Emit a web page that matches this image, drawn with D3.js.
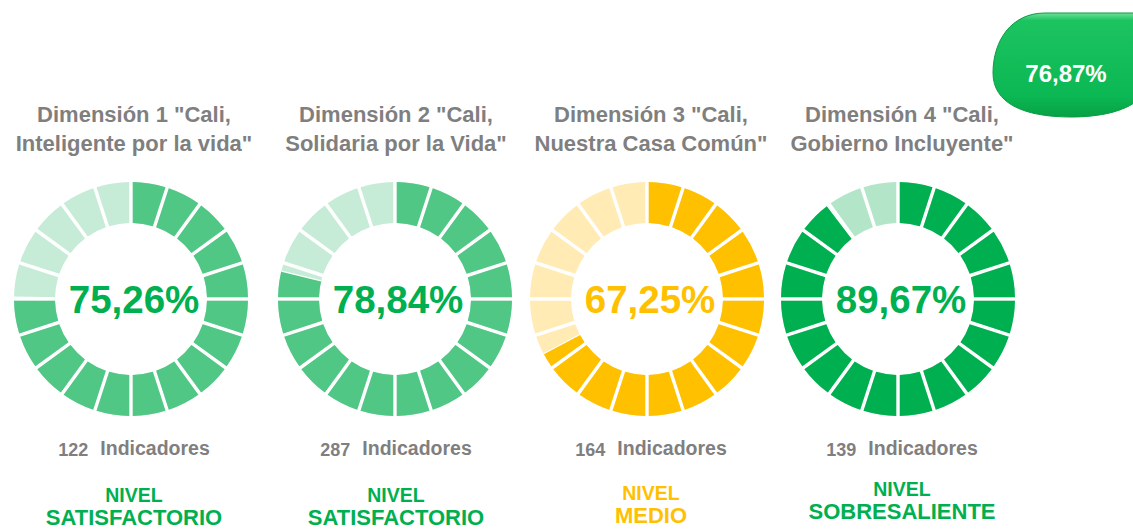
<!DOCTYPE html>
<html lang="es">
<head>
<meta charset="utf-8">
<script src="https://cdn.jsdelivr.net/npm/d3@7"></script>
<style>
  html, body { margin: 0; padding: 0; background: #fff; }
  svg { display: block; font-family: "Liberation Sans", Arial, sans-serif; font-weight: bold; }
</style>
</head>
<body>
<div id="chart"></div>
<script>
// datos
const dimensiones = ['Dimensión 1', 'Dimensión 2', 'Dimensión 3', 'Dimensión 4']
const titulosLinea1 = ['Dimensión 1 "Cali,', 'Dimensión 2 "Cali,', 'Dimensión 3 "Cali,', 'Dimensión 4 "Cali,']
const titulosLinea2 = ['Inteligente por la vida"', 'Solidaria por la Vida"', 'Nuestra Casa Común"', 'Gobierno Incluyente"']
const porcentajes = [75.26, 78.84, 67.25, 89.67]
const indicadores = [122, 287, 164, 139]
const niveles = ['SATISFACTORIO', 'SATISFACTORIO', 'MEDIO', 'SOBRESALIENTE']
const totalGeneral = 76.87
const numSegmentos = 20

// layout
const width = 1133, height = 531
const centrosDona = [131, 395, 647, 898]
const centrosTexto = [134, 396, 651, 902]
const yNivel = [502, 502, 500, 496]
const cy = 299, rExt = 117, rInt = 76

const es = d3.formatLocale({ decimal: ',', thousands: '.', grouping: [3], currency: ['', ''] })
const fmtPct = v => es.format('.2f')(v) + '%'

const xDona = d3.scaleOrdinal().domain(dimensiones).range(centrosDona)
const xTexto = d3.scaleOrdinal().domain(dimensiones).range(centrosTexto)
const angulo = d3.scaleLinear().domain([0, 100]).range([0, 2 * Math.PI])
const nivelesUnicos = ['SATISFACTORIO', 'MEDIO', 'SOBRESALIENTE']
const colorOscuro = d3.scaleOrdinal().domain(nivelesUnicos).range(['#50c785', '#ffc000', '#00b050'])
const colorClaro = d3.scaleOrdinal().domain(nivelesUnicos).range(['#c6ecd8', '#ffebb3', '#b3e6c9'])
const colorTexto = d3.scaleOrdinal().domain(nivelesUnicos).range(['#00b050', '#ffc000', '#00b050'])

const datos = dimensiones.map((d, i) => ({
    id: d, i,
    l1: titulosLinea1[i], l2: titulosLinea2[i],
    valor: porcentajes[i], ind: indicadores[i], nivel: niveles[i]
}))

const segmentos = d3.range(numSegmentos).map(k => ({
    startAngle: angulo(k * 100 / numSegmentos),
    endAngle: angulo((k + 1) * 100 / numSegmentos)
}))

const arco = d3.arc().innerRadius(rInt).outerRadius(rExt).padAngle(0.035).padRadius(100)

const svg = d3.select('#chart').append('svg')
    .attr('width', width)
    .attr('height', height)

const defs = svg.append('defs')

// recorte para la parte rellena de cada dona
defs.selectAll('clipPath')
    .data(datos)
    .enter().append('clipPath')
    .attr('id', d => `clip-${d.i}`)
    .append('path')
    .attr('d', d => d3.arc().innerRadius(0).outerRadius(rExt + 10)
        .startAngle(0).endAngle(angulo(d.valor))())

const grupos = svg.selectAll('g.dim')
    .data(datos)
    .enter().append('g')
    .attr('class', 'dim')

// donas
const dona = grupos.append('g')
    .attr('transform', d => `translate(${xDona(d.id)},${cy})`)

dona.each(function (d) {
    const g = d3.select(this)
    g.append('g').selectAll('path')
        .data(segmentos)
        .enter().append('path')
        .attr('d', arco)
        .attr('fill', colorClaro(d.nivel))
    g.append('g')
        .attr('clip-path', `url(#clip-${d.i})`)
        .selectAll('path')
        .data(segmentos)
        .enter().append('path')
        .attr('d', arco)
        .attr('fill', colorOscuro(d.nivel))
    // linea de corte del valor
    const a = angulo(d.valor) - Math.PI / 2
    g.append('line')
        .attr('x1', rInt * Math.cos(a)).attr('y1', rInt * Math.sin(a))
        .attr('x2', rExt * Math.cos(a)).attr('y2', rExt * Math.sin(a))
        .attr('stroke', '#fff')
        .attr('stroke-width', 1.2)
})

dona.append('text')
    .attr('x', 3)
    .attr('y', 14)
    .attr('text-anchor', 'middle')
    .style('font-size', '38.5px')
    .style('fill', d => colorTexto(d.nivel))
    .text(d => fmtPct(d.valor))

// titulos
const titulo = grupos.append('text')
    .attr('text-anchor', 'middle')
    .style('font-size', '22px')
    .style('fill', '#7f7f7f')
titulo.append('tspan')
    .attr('x', d => xTexto(d.id)).attr('y', 122)
    .text(d => d.l1)
titulo.append('tspan')
    .attr('x', d => xTexto(d.id)).attr('y', 151)
    .text(d => d.l2)

// indicadores
const ind = grupos.append('text')
    .attr('x', d => xTexto(d.id))
    .attr('y', 455)
    .attr('text-anchor', 'middle')
    .style('fill', '#7f7f7f')
ind.append('tspan')
    .style('font-size', '18px')
    .attr('dy', 1)
    .text(d => d.ind)
ind.append('tspan')
    .style('font-size', '19.5px')
    .attr('dx', 12)
    .attr('dy', -1)
    .text('Indicadores')

// nivel
const niv = grupos.append('text')
    .attr('text-anchor', 'middle')
    .style('fill', d => colorTexto(d.nivel))
niv.append('tspan')
    .attr('x', d => xTexto(d.id)).attr('y', d => yNivel[d.i])
    .style('font-size', '19.5px')
    .text('NIVEL')
niv.append('tspan')
    .attr('x', d => xTexto(d.id)).attr('y', d => yNivel[d.i] + 23)
    .style('font-size', '22px')
    .text(d => d.nivel)

// total general (insignia)
const grad = defs.append('linearGradient')
    .attr('id', 'gradTotal')
    .attr('x1', 0).attr('y1', 0).attr('x2', 0).attr('y2', 1)
grad.append('stop').attr('offset', '0%').attr('stop-color', '#6fe09b')
grad.append('stop').attr('offset', '7%').attr('stop-color', '#1cc460')
grad.append('stop').attr('offset', '80%').attr('stop-color', '#0bb853')
grad.append('stop').attr('offset', '100%').attr('stop-color', '#08a145')

const insignia = svg.append('g')
    .attr('transform', 'translate(993,13)')
insignia.append('path')
    .attr('d', 'M52,0 L160,0 C175,0 172,55 150,82 C136,99 105,104 78,104 C30,104 0,90 0,60 C0,28 18,0 52,0 Z')
    .attr('fill', 'url(#gradTotal)')
    .attr('stroke', '#0a9c44')
    .attr('stroke-width', 1)
insignia.append('text')
    .attr('x', 73)
    .attr('y', 69)
    .attr('text-anchor', 'middle')
    .style('font-size', '24px')
    .style('fill', '#fff')
    .text(fmtPct(totalGeneral))
</script>
</body>
</html>
